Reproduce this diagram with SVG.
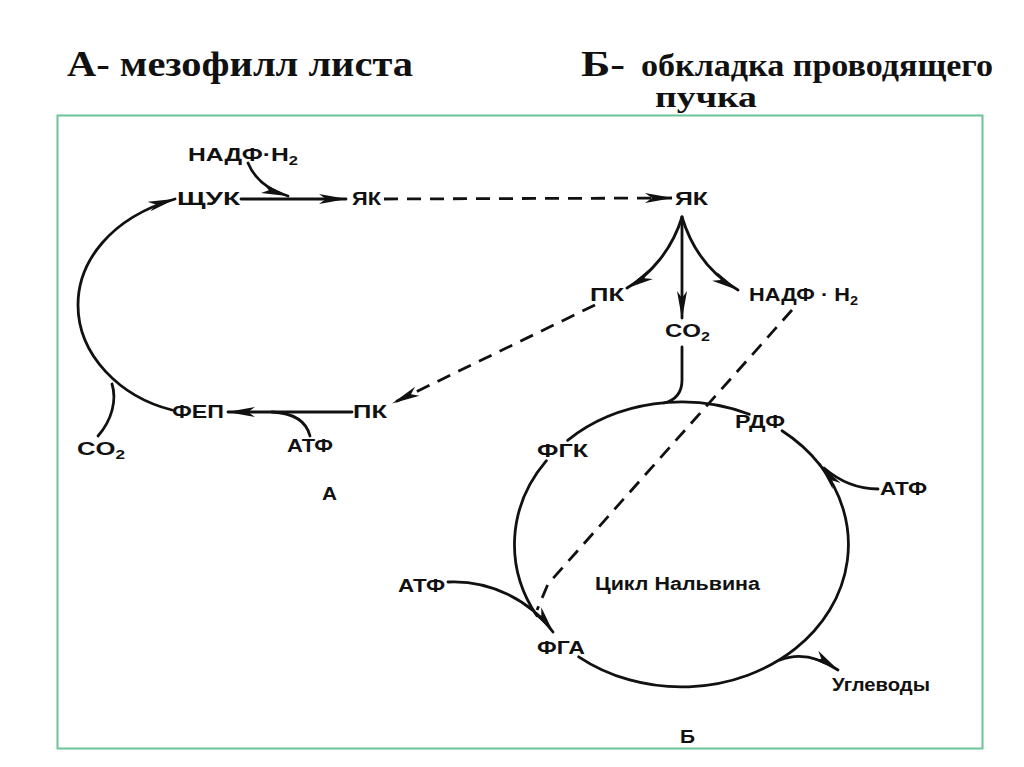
<svg xmlns="http://www.w3.org/2000/svg" width="1024" height="767" viewBox="0 0 1024 767">
<style>
.title{font-family:"Liberation Serif","Times New Roman",serif;font-weight:bold;fill:#111}
.lbl{font-family:"Liberation Sans",Arial,sans-serif;font-weight:bold;font-size:18px;fill:#111}
.sub{font-size:12px}
.ln{fill:none;stroke:#111;stroke-width:2.8;stroke-linecap:round}
.ds{fill:none;stroke:#111;stroke-width:2.8;stroke-dasharray:14 9}
</style>
<defs>
<marker id="ah" viewBox="0 0 28 12" refX="27" refY="6" markerWidth="28" markerHeight="12" markerUnits="userSpaceOnUse" orient="auto">
<path d="M0,1 L28,6 L0,11 L7,6 z" fill="#111"/>
</marker>
</defs>
<rect width="1024" height="767" fill="#fff"/>
<g id="titles">
<text class="title" x="67" y="76" font-size="36" textLength="346" lengthAdjust="spacingAndGlyphs">А- мезофилл листа</text>
<text class="title" x="581" y="76" font-size="36" textLength="44" lengthAdjust="spacingAndGlyphs">Б-</text>
<text class="title" x="641" y="76" font-size="31" textLength="352" lengthAdjust="spacingAndGlyphs">обкладка проводящего</text>
<text class="title" x="655" y="107" font-size="30" textLength="102" lengthAdjust="spacingAndGlyphs">пучка</text>
</g>
<rect id="frame" x="57.5" y="115.5" width="925" height="633" fill="none" stroke="#6cc49a" stroke-width="2"/>
<g id="connectors">
<path class="ln" d="M172,410 C120,397 78,355 78,305 C78,262 110,218 175,199" marker-end="url(#ah)"/>
<path class="ln" d="M98,436 C112,420 117,400 112,384"/>
<path class="ln" d="M241,199 L346,199" marker-end="url(#ah)"/>
<path class="ln" d="M248,163 C255,180 268,190 288,196" marker-end="url(#ah)"/>
<path class="ds" d="M384,199 L672,198" marker-end="url(#ah)"/>
<path class="ln" d="M682,217 L682,318" marker-end="url(#ah)"/>
<path class="ln" d="M682,217 C672,250 650,275 627,288" marker-end="url(#ah)"/>
<path class="ln" d="M682,217 C692,250 712,275 738,290" marker-end="url(#ah)"/>
<path class="ds" d="M595,305 L393,403" marker-end="url(#ah)"/>
<path class="ln" d="M352,412 L228,412" marker-end="url(#ah)"/>
<path class="ln" d="M310,436 C306,420 293,413 272,412"/>
<path class="ln" d="M682,347 L682,380 C682,393 676,400 664,403"/>
<path class="ln" d="M578.7,656.8 A167,142.5 0 0 0 819.9,464.8" marker-end="url(#ah)"/>
<path class="ln" d="M819.9,464.8 A167,142.5 0 0 0 782,430.7"/>
<path class="ln" d="M749.4,414.3 A167,142.5 0 0 0 567.6,440.3"/>
<path class="ln" d="M546.4,460.7 A167,142.5 0 0 0 536.9,615.8"/>
<path class="ln" d="M878,489 C855,489 838,480 824,468"/>
<path class="ln" d="M448,582 C490,580 530,600 553,632" marker-end="url(#ah)"/>
<path class="ln" d="M780,660 C800,652 820,658 838,670" marker-end="url(#ah)"/>
<path class="ds" d="M792,310 L548,584 L537,610"/>
</g>
<g id="n-nadph1"><text class="lbl" x="188" y="161" textLength="110" lengthAdjust="spacingAndGlyphs">НАДФ·Н<tspan class="sub" dy="4">2</tspan></text></g>
<g id="n-shuk"><text class="lbl" x="177" y="205" textLength="63" lengthAdjust="spacingAndGlyphs">ЩУК</text></g>
<g id="n-yak1"><text class="lbl" x="352" y="205" textLength="29" lengthAdjust="spacingAndGlyphs">ЯК</text></g>
<g id="n-yak2"><text class="lbl" x="675" y="205" textLength="33" lengthAdjust="spacingAndGlyphs">ЯК</text></g>
<g id="n-pk2"><text class="lbl" x="590" y="301" textLength="34" lengthAdjust="spacingAndGlyphs">ПК</text></g>
<g id="n-co2b"><text class="lbl" x="665" y="337" textLength="45" lengthAdjust="spacingAndGlyphs">CO<tspan class="sub" dy="4">2</tspan></text></g>
<g id="n-nadph2"><text class="lbl" x="749" y="301" textLength="109" lengthAdjust="spacingAndGlyphs">НАДФ · Н<tspan class="sub" dy="4">2</tspan></text></g>
<g id="n-fep"><text class="lbl" x="172" y="418" textLength="52" lengthAdjust="spacingAndGlyphs">ФЕП</text></g>
<g id="n-pk1"><text class="lbl" x="353" y="418" textLength="34" lengthAdjust="spacingAndGlyphs">ПК</text></g>
<g id="n-co2a"><text class="lbl" x="77" y="455" textLength="48" lengthAdjust="spacingAndGlyphs">CO<tspan class="sub" dy="4">2</tspan></text></g>
<g id="n-atf1"><text class="lbl" x="287" y="452" textLength="46" lengthAdjust="spacingAndGlyphs">АТФ</text></g>
<g id="n-A"><text class="lbl" x="322" y="500" textLength="15" lengthAdjust="spacingAndGlyphs">А</text></g>
<g id="n-fgk"><text class="lbl" x="537" y="457" textLength="51" lengthAdjust="spacingAndGlyphs">ФГК</text></g>
<g id="n-rdf"><text class="lbl" x="735" y="428" textLength="50" lengthAdjust="spacingAndGlyphs">РДФ</text></g>
<g id="n-atf2"><text class="lbl" x="880" y="495" textLength="47" lengthAdjust="spacingAndGlyphs">АТФ</text></g>
<g id="n-atf3"><text class="lbl" x="398" y="592" textLength="47" lengthAdjust="spacingAndGlyphs">АТФ</text></g>
<g id="n-calvin"><text class="lbl" x="595" y="590" textLength="165" lengthAdjust="spacingAndGlyphs">Цикл Нальвина</text></g>
<g id="n-fga"><text class="lbl" x="537" y="654" textLength="48" lengthAdjust="spacingAndGlyphs">ФГА</text></g>
<g id="n-carb"><text class="lbl" x="832" y="691" textLength="98" lengthAdjust="spacingAndGlyphs">Углеводы</text></g>
<g id="n-B"><text class="lbl" x="680" y="743" textLength="15" lengthAdjust="spacingAndGlyphs">Б</text></g>
</svg>
